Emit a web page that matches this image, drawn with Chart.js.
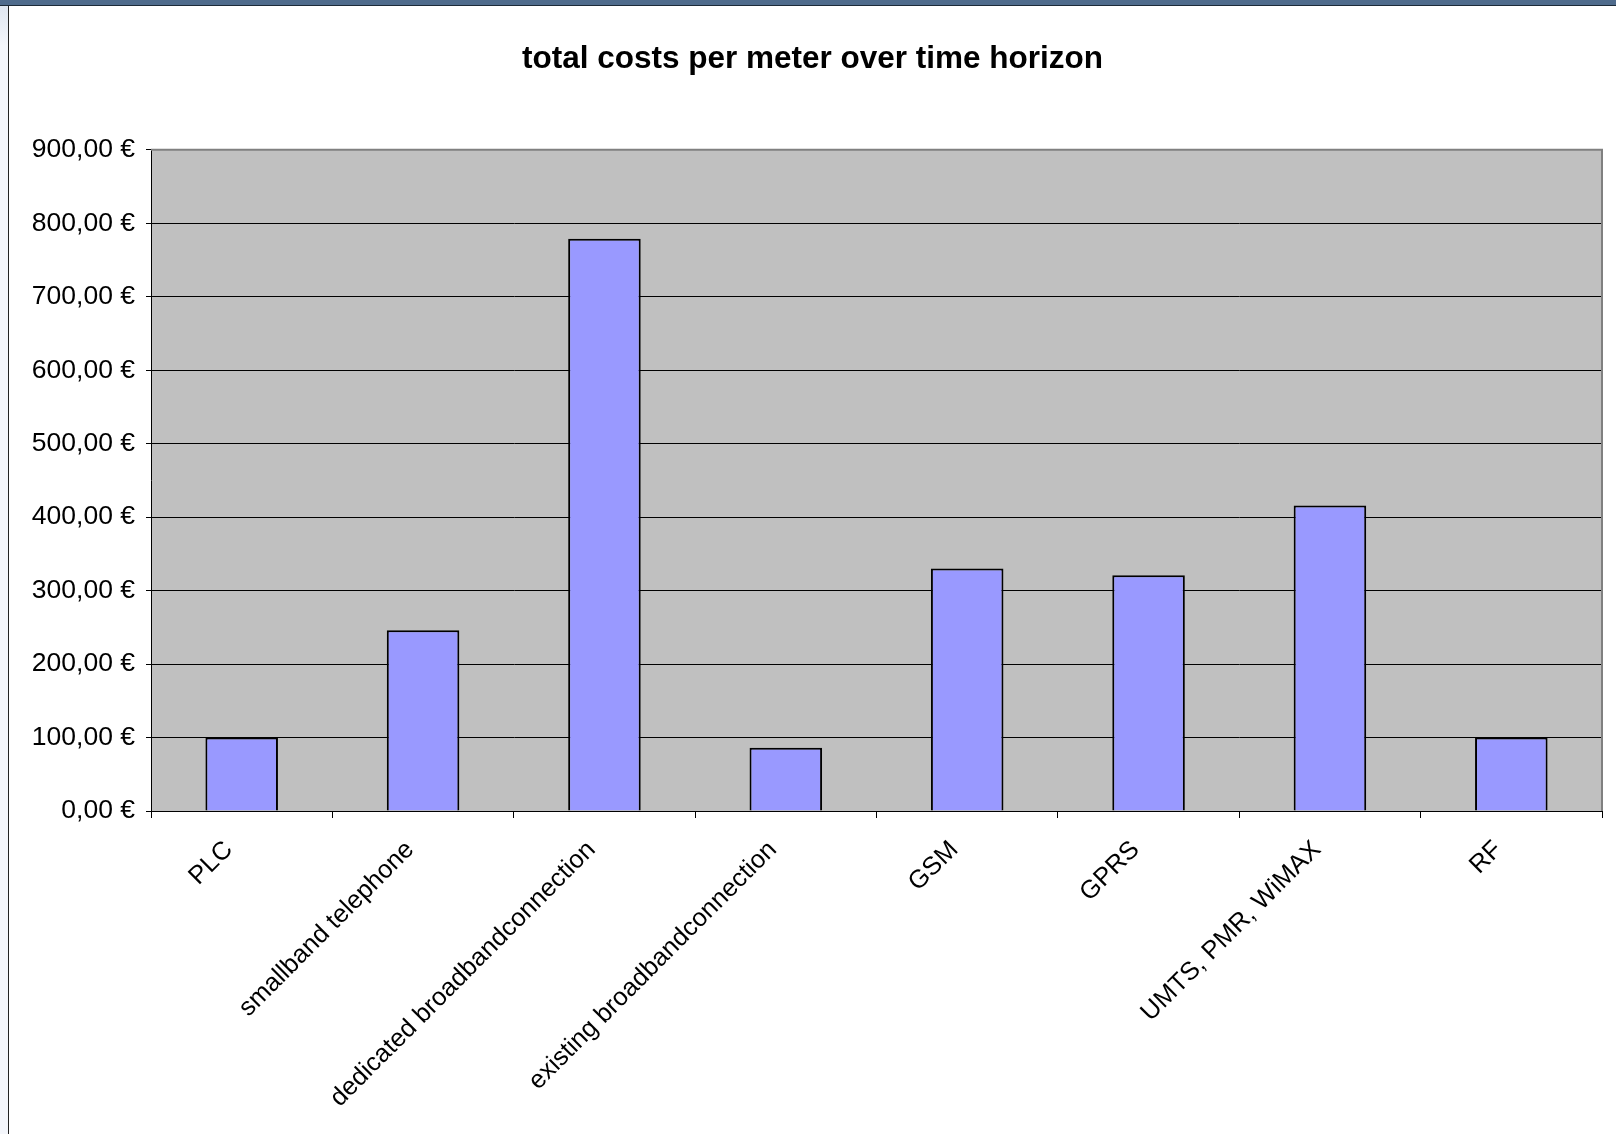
<!DOCTYPE html>
<html>
<head>
<meta charset="utf-8">
<script src="https://cdn.jsdelivr.net/npm/chart.js@4.4.1/dist/chart.umd.min.js"></script>
<style>
  html, body { margin: 0; padding: 0; width: 1616px; height: 1134px; overflow: hidden; background: #ffffff; }
  #topbar { position: absolute; left: 0; top: 0; width: 1616px; height: 5px; background: #4f6b8c; border-bottom: 1px solid #1c2a38; }
  #leftstrip { position: absolute; left: 0; top: 6px; width: 8px; height: 1128px; background: linear-gradient(#dfe6f0, #f4f6fb 40px); }
  #leftline { position: absolute; left: 8px; top: 6px; width: 1px; height: 1128px; background: #222222; }
  #wrap { position: absolute; left: 9px; top: 6px; width: 1607px; height: 1128px; }
</style>
</head>
<body>
<div id="topbar"></div>
<div id="leftstrip"></div>
<div id="leftline"></div>
<div id="wrap"><canvas id="chart" width="1607" height="1128"></canvas></div>
<script>
// Communication technologies compared
const categories = [
  'PLC',
  'smallband telephone',
  'dedicated broadbandconnection',
  'existing broadbandconnection',
  'GSM',
  'GPRS',
  'UMTS, PMR, WiMAX',
  'RF'
];

// Total cost per meter over the time horizon, in euro
const costPerMeter = [100, 246, 779, 86, 330, 321, 416, 100];

// Value axis range and step
const yMin = 0;
const yMax = 900;
const yStep = 100;

const chartTitle = 'total costs per meter over time horizon';

const euro = (v) => v.toFixed(2).replace('.', ',') + ' \u20AC';

// Grey plot background plus the grey top/right frame of the plot area
const plotFrame = {
  id: 'plotFrame',
  beforeDraw(chart) {
    const { ctx, chartArea: a } = chart;
    ctx.save();
    ctx.fillStyle = '#c0c0c0';
    ctx.fillRect(a.left, a.top, a.right - a.left, a.bottom - a.top);
    ctx.restore();
  },
  afterDraw(chart) {
    const { ctx, chartArea: a } = chart;
    ctx.save();
    ctx.strokeStyle = '#808080';
    ctx.lineWidth = 2;
    ctx.beginPath();
    ctx.moveTo(a.left, a.top);
    ctx.lineTo(a.right, a.top);
    ctx.lineTo(a.right, a.bottom);
    ctx.stroke();
    ctx.restore();
  }
};

new Chart(document.getElementById('chart'), {
  type: 'bar',
  data: {
    labels: categories,
    datasets: [{
      data: costPerMeter,
      backgroundColor: '#9999ff',
      borderColor: '#000000',
      borderWidth: 2,
      barPercentage: 0.4,
      categoryPercentage: 1.0
    }]
  },
  options: {
    responsive: false,
    animation: false,
    devicePixelRatio: 1,
    layout: { padding: { left: 14, right: 14, top: 0, bottom: 0 } },
    plugins: {
      legend: { display: false },
      tooltip: { enabled: false },
      title: {
        display: true,
        text: chartTitle,
        color: '#000000',
        font: { family: '"Liberation Sans", Arial, sans-serif', size: 31.5, weight: 'bold' },
        padding: { top: 34, bottom: 72 }
      }
    },
    scales: {
      x: {
        offset: true,
        afterFit(scale) { scale.height = 323; },
        border: { display: true, color: '#000000', width: 1 },
        grid: { display: true, drawOnChartArea: false, drawTicks: true, tickLength: 7, color: '#000000', offset: true },
        ticks: {
          autoSkip: false,
          minRotation: 45,
          maxRotation: 45,
          padding: 17,
          labelOffset: -13,
          color: '#000000',
          font: { family: '"Liberation Sans", Arial, sans-serif', size: 25.5 }
        }
      },
      y: {
        min: yMin,
        max: yMax,
        afterFit(scale) { scale.width = 128; },
        border: { display: true, color: '#000000', width: 1 },
        grid: { color: '#000000', lineWidth: 1, tickLength: 5, drawTicks: true },
        ticks: {
          stepSize: yStep,
          padding: 11,
          color: '#000000',
          font: { family: '"Liberation Sans", Arial, sans-serif', size: 26.5 },
          callback: (v) => euro(v)
        }
      }
    }
  },
  plugins: [plotFrame]
});
</script>
</body>
</html>
